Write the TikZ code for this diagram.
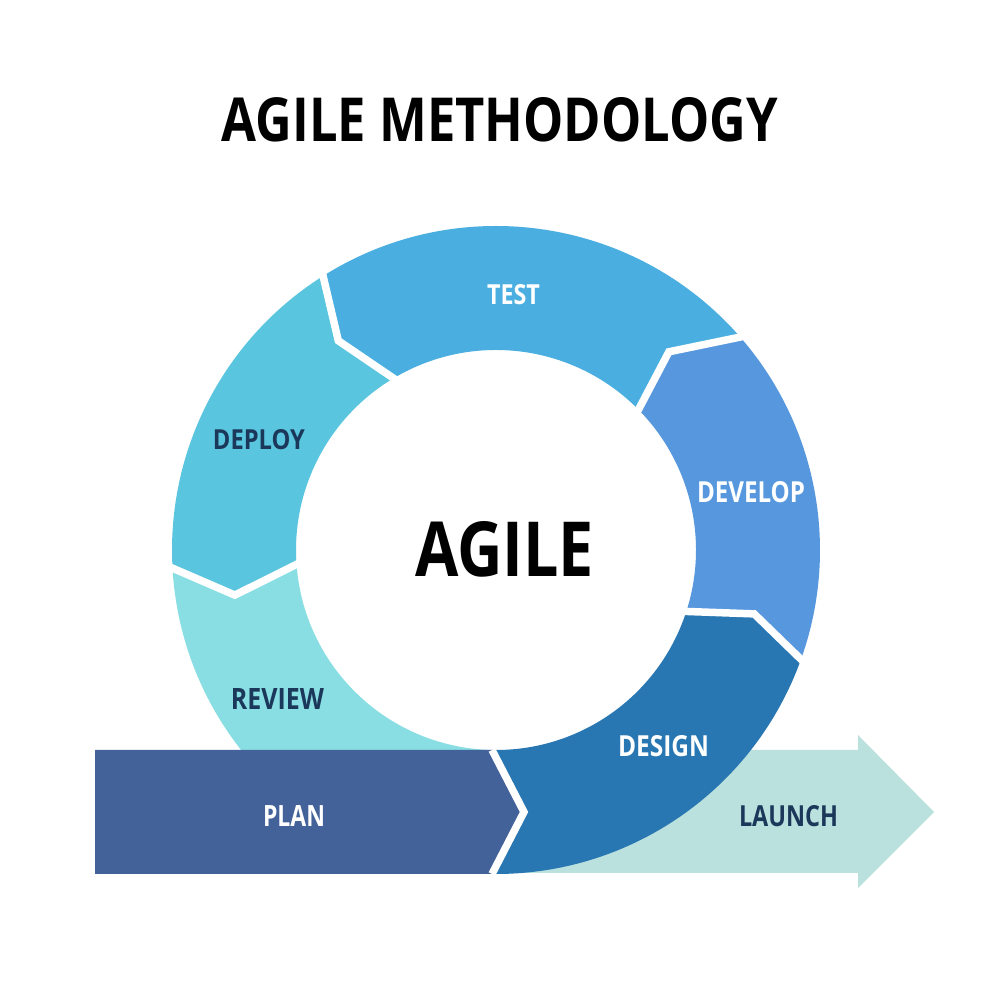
\documentclass[tikz,border=0pt]{standalone}
\usepackage{fontspec}
\setmainfont{Open Sans}
\usepackage{graphicx}
\usetikzlibrary{calc}
\definecolor{ctest}{HTML}{4AAFE0}
\definecolor{cdevelop}{HTML}{5697DD}
\definecolor{cdesign}{HTML}{2977B2}
\definecolor{cdeploy}{HTML}{5AC5DE}
\definecolor{creview}{HTML}{88DEE2}
\definecolor{cplan}{HTML}{43629A}
\definecolor{claunch}{HTML}{BAE1DD}
\definecolor{cdark}{HTML}{1B375A}
\newcommand{\mylbl}[3]{\resizebox{#1pt}{#2pt}{\bfseries #3}}
\begin{document}
\begin{tikzpicture}[x=1pt,y=1pt,
  gapline/.style={draw=white,line width=7.5pt,line join=miter},
  lab/.style={inner sep=0pt,anchor=center},
  wlab/.style={lab,text=white},
  dlab/.style={lab,text=cdark},
  blab/.style={lab,text=black}]
\useasboundingbox (0,0) rectangle (1000,1000);
\fill[white] (0,0) rectangle (1000,1000);
\coordinate (C) at (496,450);
\def\Ro{324}
\def\Ri{200}
% boundary 1: design -> develop
\def\oA{-20.2} \def\iA{-18.4}
% boundary 2: develop -> test
\def\oB{40.5} \def\iB{44}
% boundary 3: test -> deploy
\def\oC{121.9} \def\iC{120}
% boundary 4: deploy -> review
\def\oD{182.7} \def\iD{183.4}
\coordinate (TA) at ($(C)+(-13.9:266)$);
\coordinate (TB) at ($(C)+(48.9:263)$);
\coordinate (TC) at ($(C)+(127:262)$);
\coordinate (TD) at ($(C)+(189.8:265)$);
\coordinate (PT) at (492,250);
\coordinate (PM) at (524,188);
\coordinate (PB) at (492,126);

% LAUNCH arrow
\fill[claunch] (520,127) -- (858,127) -- (858,112) -- (934,188) -- (858,265) -- (858,250) -- (520,250) -- cycle;

% REVIEW
\fill[creview] ($(C)+(\oD:\Ro)$) arc[start angle=\oD,end angle=270,radius=\Ro pt]
  -- ($(C)+(270:\Ri)$) arc[start angle=270,end angle=\iD,radius=\Ri pt] -- (TD) -- cycle;
% DEPLOY
\fill[cdeploy] ($(C)+(\oC:\Ro)$) arc[start angle=\oC,end angle=\oD,radius=\Ro pt]
  -- (TD) -- ($(C)+(\iD:\Ri)$) arc[start angle=\iD,end angle=\iC,radius=\Ri pt] -- (TC) -- cycle;
% TEST
\fill[ctest] ($(C)+(\oB:\Ro)$) arc[start angle=\oB,end angle=\oC,radius=\Ro pt]
  -- (TC) -- ($(C)+(\iC:\Ri)$) arc[start angle=\iC,end angle=\iB,radius=\Ri pt] -- (TB) -- cycle;
% DEVELOP
\fill[cdevelop] ($(C)+(\oA:\Ro)$) arc[start angle=\oA,end angle=\oB,radius=\Ro pt]
  -- (TB) -- ($(C)+(\iB:\Ri)$) arc[start angle=\iB,end angle=\iA,radius=\Ri pt] -- (TA) -- cycle;
% DESIGN
\fill[cdesign] (PT) -- (PM) -- (PB) -- ($(C)+(-90:\Ro)$) arc[start angle=-90,end angle=\oA,radius=\Ro pt]
  -- (TA) -- ($(C)+(\iA:\Ri)$) arc[start angle=\iA,end angle=-90,radius=\Ri pt] -- cycle;
% PLAN
\fill[cplan] (95,126) -- (PB) -- (PM) -- (PT) -- (95,250) -- cycle;

% white gaps
\draw[gapline] ($(C)+(\iA:\Ri-6)$) -- (TA) -- ($(C)+(\oA:\Ro+6)$);
\draw[gapline] ($(C)+(\iB:\Ri-6)$) -- (TB) -- ($(C)+(\oB:\Ro+6)$);
\draw[gapline] ($(C)+(\iC:\Ri-6)$) -- (TC) -- ($(C)+(\oC:\Ro+6)$);
\draw[gapline] ($(C)+(\iD:\Ri-6)$) -- (TD) -- ($(C)+(\oD:\Ro+6)$);
\draw[gapline] (PT) -- (PM) -- (PB);

% texts
\node[blab] (title) at (500,880) {\mylbl{556}{44}{AGILE METHODOLOGY}};
\node[blab] (agile) at (504.5,450.5) {\mylbl{179}{55}{AGILE}};
\node[wlab] (test) at (513.5,705) {\mylbl{53}{20}{TEST}};
\node[dlab] (deploy) at (259,560) {\mylbl{92}{20}{DEPLOY}};
\node[wlab] (develop) at (751,507.5) {\mylbl{108}{21}{DEVELOP}};
\node[dlab] (review) at (277.5,301) {\mylbl{93}{21}{REVIEW}};
\node[wlab] (plan) at (294,184) {\mylbl{62}{21}{PLAN}};
\node[wlab] (design) at (663.5,254) {\mylbl{91}{21}{DESIGN}};
\node[dlab] (launch) at (788.5,184) {\mylbl{99}{21}{LAUNCH}};
\end{tikzpicture}
\end{document}
